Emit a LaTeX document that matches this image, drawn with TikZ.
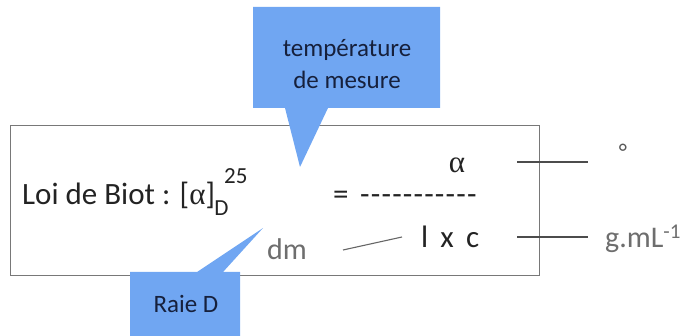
\documentclass[tikz,border=0pt]{standalone}
\usepackage{fontspec}
\setmainfont{Carlito}
\newfontfamily\greekfont{Liberation Serif}
\definecolor{callblue}{RGB}{112,166,242}
\definecolor{calltext}{RGB}{22,32,60}
\definecolor{maintext}{RGB}{35,35,35}
\definecolor{unitgray}{RGB}{110,110,110}
\definecolor{framegray}{RGB}{120,120,120}
\newcommand{\hy}{-\kern1.2pt}
\tikzset{
  callout/.style={fill=callblue, draw=none},
  calllabel/.style={text=calltext, font=\fontsize{25}{32}\selectfont, inner sep=0pt, align=center},
  eqtext/.style={text=maintext, font=\fontsize{31}{36}\selectfont, inner sep=0pt},
  smalltext/.style={text=maintext, font=\fontsize{23}{23}\selectfont, inner sep=0pt},
  unittext/.style={text=unitgray, font=\fontsize{30}{36}\selectfont, inner sep=0pt},
  leader/.style={draw=black!70, line width=1.1pt},
  frame/.style={draw=framegray, line width=1pt}
}
\begin{document}
\begin{tikzpicture}[x=1pt,y=-1pt]
\useasboundingbox (0,0) rectangle (693,336);
% main frame
\node[frame, minimum width=529pt, minimum height=150pt, anchor=north west, inner sep=0pt] (frame) at (10,125) {};
% callouts
\path[callout] (253,7) -- (440,7) -- (440,108) -- (328,108) -- (300,167) -- (285,108) -- (253,108) -- cycle;
\path[callout] (130,272) -- (197,272) -- (263,228) -- (223,272) -- (240,272) -- (240,340) -- (130,340) -- cycle;
\node[calllabel] (temp) at (347,64) {température\\de mesure};
\node[calllabel, anchor=base] (raie) at (186,313) {Raie D};
% equation
\node[eqtext, anchor=base west] (loi) at (22,205) {Loi de Biot : [{\greekfont α}]};
\node[smalltext, anchor=base west] (sub) at (loi.base east) [yshift=-11pt, xshift=-1pt] {D};
\node[smalltext, anchor=base west] (sup) at (224,184) {25};
\node[eqtext, anchor=base west] (eq) at (333,205) {=};
\node[eqtext, anchor=base west] (dash) at (360,205) {\hy\hy\hy\hy\hy\hy\hy\hy\hy\hy-};
\node[eqtext, anchor=base] (alpha) at (457,173) {\greekfont α};
\node[eqtext, anchor=base west] (lxc) at (421,248) {l\,  x\, c};
\node[unittext, anchor=base west] (dm) at (267,260) {dm};
\node[unittext, anchor=base west] (gml) at (605,248) {g.mL\textsuperscript{-1}};
\node[unittext, text=black!65, anchor=center, font=\fontsize{24}{24}\selectfont] (deg) at (623,152) {°};
% leaders
\coordinate (a1) at (517,162);
\coordinate (a2) at (588,162);
\coordinate (b1) at (517,237);
\coordinate (b2) at (588,237);
\coordinate (c1) at (343,250);
\coordinate (c2) at (402,237);
\draw[leader] (a1) -- (a2);
\draw[leader] (b1) -- (b2);
\draw[leader, draw=black!60] (c1) -- (c2);
\end{tikzpicture}
\end{document}
